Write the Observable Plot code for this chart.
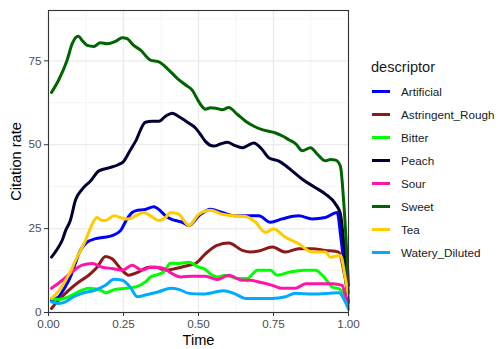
<!DOCTYPE html>
<html>
<head>
<meta charset="utf-8">
<script src="https://cdn.jsdelivr.net/npm/d3@7"></script>
<script src="https://cdn.jsdelivr.net/npm/@observablehq/plot@0.6"></script>
<style>
  body { margin: 0; background: #fff; }
  #wrap { position: relative; width: 500px; height: 349px; font-family: "Liberation Sans", Arial, sans-serif; }
  #wrap svg { font-family: "Liberation Sans", Arial, sans-serif; }
  g[aria-label="x-axis tick label"] text, g[aria-label="y-axis tick label"] text { fill: #4D4D4D; font-size: 11.7px; }
  g[aria-label="x-axis label"] text, g[aria-label="y-axis label"] text { fill: #000; font-size: 14.6px; }
  #legend { position: absolute; left: 360px; top: 55px; color: #1a1a1a; }
  #legend .title { font-size: 14.6px; margin-left: 11px; height: 25px; line-height: 25px; }
  #legend .item { height: 23px; display: flex; align-items: center; font-size: 11.7px; }
  #legend .key { width: 18px; height: 3px; margin-left: 12px; margin-right: 11px; }
</style>
</head>
<body>
<div id="wrap"></div>
<script>
const descriptors = ["Artificial","Astringent_Rough","Bitter","Peach","Sour","Sweet","Tea","Watery_Diluted"];
const colors = ["#0000FF","#8B1A1A","#00FF00","#000033","#FF14AA","#006400","#FFCC00","#00AAFF"];
const xTicks = [0, 0.25, 0.5, 0.75, 1];
const xMinor = [0.125, 0.375, 0.625, 0.875];
const yTicks = [0, 25, 50, 75];
const yMinor = [12.5, 37.5, 62.5, 87.5];

const artificial = [[0.01,3.7],[0.034,4.7],[0.055,7.5],[0.073,10.6],[0.087,14],[0.101,17.5],[0.129,21],[0.157,22],[0.185,22.4],[0.212,22.9],[0.24,24.4],[0.262,27.9],[0.279,29.8],[0.29,30.3],[0.323,30.7],[0.351,31.5],[0.373,30.3],[0.39,28.8],[0.407,27.9],[0.423,27.4],[0.446,26.9],[0.468,25.9],[0.501,28.8],[0.54,30.8],[0.579,29.8],[0.623,28.8],[0.673,28.8],[0.701,28.8],[0.74,26.9],[0.779,27.9],[0.834,28.8],[0.879,27.9],[0.923,28.3],[0.962,29.8],[0.975,22],[0.99,10],[1.0,3]];
const astringent = [[0.01,1.2],[0.034,3.7],[0.068,6.7],[0.101,9.1],[0.134,11.1],[0.162,13.5],[0.19,16.7],[0.212,16],[0.24,13.1],[0.268,11.1],[0.301,12.1],[0.334,13.5],[0.357,13.5],[0.39,12.6],[0.423,13.1],[0.468,14.1],[0.49,14.6],[0.523,17.5],[0.562,20],[0.601,20.7],[0.646,18.5],[0.673,18],[0.701,18.3],[0.746,19.5],[0.79,18],[0.834,19],[0.879,19],[0.923,18.5],[0.968,18],[0.985,12],[1.0,5]];
const bitter = [[0.01,4.2],[0.034,3.9],[0.068,4.7],[0.101,6.2],[0.134,7.2],[0.173,6.7],[0.19,5.9],[0.223,6.9],[0.257,7.2],[0.29,7.6],[0.323,9.1],[0.34,10.6],[0.357,11.1],[0.384,12.1],[0.407,14.7],[0.434,14.6],[0.468,15],[0.501,13.5],[0.518,13.1],[0.546,11.1],[0.562,10.6],[0.59,11.1],[0.629,10.1],[0.662,10.1],[0.696,12.6],[0.74,12.6],[0.762,11.1],[0.807,12.1],[0.851,12.6],[0.89,12.6],[0.918,10.6],[0.946,7.6],[0.97,7],[1.0,2]];
const peach = [[0.01,16.5],[0.03,19],[0.046,21.6],[0.057,24.4],[0.073,27.5],[0.09,33.5],[0.112,36.7],[0.14,39.2],[0.168,42.2],[0.201,43.1],[0.234,44.1],[0.251,45.1],[0.27,48],[0.29,51],[0.323,56.7],[0.346,57],[0.368,57],[0.39,58.5],[0.412,59.4],[0.434,58.4],[0.468,56.4],[0.49,55],[0.507,53],[0.523,51],[0.551,49.6],[0.575,50.3],[0.596,50.7],[0.62,49.8],[0.646,49.1],[0.665,49.8],[0.684,50.5],[0.712,48.6],[0.734,46.1],[0.768,45.1],[0.79,43.8],[0.812,42.2],[0.846,39.7],[0.89,37.2],[0.923,35.3],[0.957,32.3],[0.973,29.4],[0.985,20],[1.0,5]];
const sour = [[0.01,7.2],[0.046,9.6],[0.079,12.1],[0.112,14.1],[0.146,14.6],[0.179,13.5],[0.212,13.1],[0.246,12.6],[0.279,14.1],[0.312,12.6],[0.34,13.5],[0.357,13.5],[0.384,13.1],[0.412,11.6],[0.44,10.6],[0.479,10.8],[0.523,10.8],[0.562,9.8],[0.601,11.1],[0.646,9.6],[0.673,9.6],[0.701,9.1],[0.746,8.1],[0.779,7.2],[0.823,7.2],[0.857,8.6],[0.901,8.6],[0.946,8.6],[0.979,8.1],[0.99,5],[1.0,3]];
const sweet = [[0.01,65.6],[0.034,69.3],[0.062,75.2],[0.079,80.1],[0.099,82.3],[0.115,80.8],[0.129,79.6],[0.151,79.3],[0.173,80.4],[0.196,80.1],[0.223,80.8],[0.246,81.9],[0.262,81.6],[0.284,79.6],[0.307,78.2],[0.34,75.2],[0.368,74.7],[0.396,72.7],[0.429,69.8],[0.457,67.8],[0.479,66.3],[0.495,63.8],[0.51,61.6],[0.523,60.6],[0.54,61],[0.557,60.9],[0.579,60.4],[0.601,61.1],[0.63,59],[0.657,57],[0.685,55.5],[0.712,54.5],[0.757,53.5],[0.78,52.6],[0.801,51.5],[0.825,50.2],[0.846,48.2],[0.873,49.1],[0.9,46.8],[0.923,45.2],[0.94,45.6],[0.957,45.4],[0.973,43.6],[0.984,33],[1.0,8]];
const tea = [[0.01,4.2],[0.035,6.5],[0.057,9.6],[0.075,12.5],[0.09,15.5],[0.123,21.4],[0.146,26.4],[0.162,28.3],[0.18,27.4],[0.19,27.4],[0.218,28.8],[0.257,27.9],[0.268,27.9],[0.29,28.8],[0.318,29.8],[0.34,28.8],[0.368,27.4],[0.39,28.3],[0.407,29.8],[0.434,29.3],[0.468,25.9],[0.501,29.3],[0.54,30.5],[0.579,29.3],[0.623,28.8],[0.657,28.6],[0.69,26.9],[0.723,23.9],[0.751,24.9],[0.79,22.4],[0.834,20.5],[0.879,18],[0.923,18],[0.94,16.5],[0.973,17],[0.99,10],[1.0,5]];
const watery = [[0.01,3.2],[0.034,2.7],[0.057,3.2],[0.084,4.7],[0.112,5.7],[0.157,6.7],[0.19,8.1],[0.218,9.9],[0.246,9.6],[0.273,7.5],[0.296,4.7],[0.323,5.2],[0.368,6.2],[0.407,7.2],[0.434,6.9],[0.468,5.7],[0.512,5.5],[0.546,5.9],[0.584,6.5],[0.618,5.7],[0.657,4.2],[0.746,4.2],[0.79,4.7],[0.823,5.7],[0.879,5.5],[0.934,5.7],[0.968,5.9],[0.99,3],[1.0,1]];

const seriesList = [artificial, astringent, bitter, peach, sour, sweet, tea, watery];
const data = seriesList.flatMap((s, i) => s.map(([t, v]) => ({time: t, rate: v, descriptor: descriptors[i]})));

const chart = Plot.plot({
  width: 500,
  height: 349,
  marginLeft: 48,
  marginRight: 152,
  marginTop: 10,
  marginBottom: 37,
  x: {domain: [0, 1]},
  y: {domain: [0, 90]},
  color: {domain: descriptors, range: colors},
  marks: [
    Plot.ruleX(xMinor, {stroke: "#F2F2F2", strokeWidth: 0.8}),
    Plot.ruleY(yMinor, {stroke: "#F2F2F2", strokeWidth: 0.8}),
    Plot.ruleX(xTicks, {stroke: "#EBEBEB", strokeWidth: 1.3}),
    Plot.ruleY(yTicks, {stroke: "#EBEBEB", strokeWidth: 1.3}),
    Plot.lineY(data, {x: "time", y: "rate", z: "descriptor", stroke: "descriptor", strokeWidth: 3, curve: "monotone-x"}),
    Plot.frame({stroke: "#333333", strokeWidth: 1.1}),
    Plot.axisX({ticks: xTicks, tickFormat: d3.format(".2f"), stroke: "#333333", tickSize: 4, tickPadding: 3,
      label: "Time", labelAnchor: "center", labelArrow: "none", labelOffset: 32}),
    Plot.axisY({ticks: yTicks, stroke: "#333333", tickSize: 4, tickPadding: 3,
      label: "Citation rate", labelAnchor: "center", labelArrow: "none", labelOffset: 38})
  ]
});

const wrap = document.getElementById("wrap");
wrap.appendChild(chart);

const legend = document.createElement("div");
legend.id = "legend";
const title = document.createElement("div");
title.className = "title";
title.textContent = "descriptor";
legend.appendChild(title);
descriptors.forEach((d, i) => {
  const item = document.createElement("div");
  item.className = "item";
  const key = document.createElement("span");
  key.className = "key";
  key.style.background = colors[i];
  const lab = document.createElement("span");
  lab.textContent = d;
  item.appendChild(key);
  item.appendChild(lab);
  legend.appendChild(item);
});
wrap.appendChild(legend);
</script>
</body>
</html>
